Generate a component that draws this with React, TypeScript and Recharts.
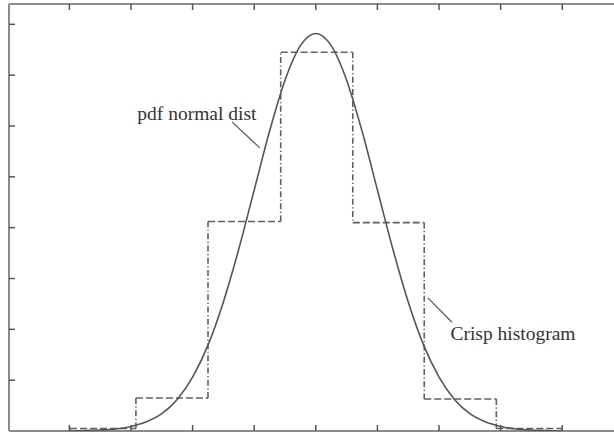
import React from 'react';
import { ComposedChart, Line, XAxis, YAxis, ReferenceLine, ReferenceDot } from 'recharts';

const curveX = [0, 0.25, 0.5, 0.75, 1, 1.25, 1.5, 1.75, 2, 2.25, 2.5, 2.75, 3, 3.25, 3.5, 3.75, 4, 4.25, 4.5, 4.75, 5, 5.25, 5.5, 5.75, 6, 6.25, 6.5, 6.75, 7, 7.25, 7.5, 7.75, 8];
const curveY = [0.0, 0.01, 0.02, 0.04, 0.09, 0.18, 0.34, 0.62, 1.06, 1.69, 2.54, 3.58, 4.74, 5.9, 6.9, 7.58, 7.82, 7.58, 6.9, 5.9, 4.74, 3.58, 2.54, 1.69, 1.06, 0.62, 0.34, 0.18, 0.09, 0.04, 0.02, 0.01, 0.0];

const binEdges = [0.01, 1.08, 2.25, 3.43, 4.6, 5.76, 6.93, 8.0];
const binHeights = [0.05, 0.65, 4.12, 7.45, 4.1, 0.63, 0.05];

const xTicks = [0, 1, 2, 3, 4, 5, 6, 7, 8];
const yTicks = [1, 2, 3, 4, 5, 6, 7, 8];
const xDomain = [-0.98, 8.84];
const yDomain = [0, 8.4];

const annotations = [
  { text: 'pdf normal dist', x: 2.07, y: 6.26, fromX: 2.64, fromY: 6.08, toX: 3.09, toY: 5.57 },
  { text: 'Crisp histogram', x: 7.2, y: 1.93, fromX: 6.21, fromY: 2.14, toX: 5.82, toY: 2.62 },
];

const curveData = curveX.map((x, i) => ({ x, y: curveY[i] }));

const FRAME = '#8c8c8c';
const INK = '#555555';
const HIST = '#606060';
const TICK = 6;

const XTickShape = (p: any) => {
  const top = Math.min(p.y1, p.y2);
  const bot = Math.max(p.y1, p.y2);
  return (
    <g>
      <line x1={p.x1} x2={p.x1} y1={bot} y2={bot - TICK} stroke={INK} strokeWidth={1.5} />
      <line x1={p.x1} x2={p.x1} y1={top} y2={top + TICK} stroke={INK} strokeWidth={1.5} />
    </g>
  );
};
const YTickShape = (p: any) => {
  const left = Math.min(p.x1, p.x2);
  return <line x1={left} x2={left + TICK} y1={p.y1} y2={p.y1} stroke={INK} strokeWidth={1.5} />;
};

export default function App() {
  const horiz = binHeights.map((h, i) => (
    <ReferenceLine
      key={'h' + i}
      segment={[{ x: binEdges[i], y: h }, { x: binEdges[i + 1], y: h }]}
      stroke={HIST}
      strokeWidth={1.6}
      strokeDasharray="7 3"
      ifOverflow="visible"
    />
  ));
  const vert = binEdges.map((e, i) => {
    const a = i === 0 ? 0 : binHeights[i - 1];
    const b = i === binHeights.length ? 0 : binHeights[i];
    return (
      <ReferenceLine
        key={'v' + i}
        segment={[{ x: e, y: a }, { x: e, y: b }]}
        stroke={HIST}
        strokeWidth={1.6}
        strokeDasharray="6 2.5 1.2 2.5"
        ifOverflow="visible"
      />
    );
  });
  return (
    <div style={{ position: 'absolute', left: 0, top: 0, background: '#fff' }}>
      <ComposedChart
        width={614}
        height={433}
        data={curveData}
        margin={{ top: 4, right: 0, bottom: 2, left: 9 }}
      >
        <XAxis dataKey="x" type="number" domain={xDomain} hide allowDataOverflow />
        <YAxis type="number" domain={yDomain} hide allowDataOverflow />
        <ReferenceLine x={xDomain[0]} stroke={FRAME} strokeWidth={2} ifOverflow="visible" />
        <ReferenceLine y={yDomain[0]} stroke={FRAME} strokeWidth={2} ifOverflow="visible" />
        <ReferenceLine y={yDomain[1]} stroke={FRAME} strokeWidth={2} ifOverflow="visible" />
        {xTicks.map((t) => (
          <ReferenceLine key={'xt' + t} x={t} stroke={INK} ifOverflow="visible" shape={XTickShape} />
        ))}
        {yTicks.map((t) => (
          <ReferenceLine key={'yt' + t} y={t} stroke={INK} ifOverflow="visible" shape={YTickShape} />
        ))}
        {horiz}
        {vert}
        <Line
          type="monotone"
          dataKey="y"
          stroke={INK}
          strokeWidth={1.6}
          dot={false}
          isAnimationActive={false}
        />
        {annotations.map((a, i) => (
          <ReferenceLine
            key={'l' + i}
            segment={[{ x: a.fromX, y: a.fromY }, { x: a.toX, y: a.toY }]}
            stroke={INK}
            strokeWidth={1.2}
            ifOverflow="visible"
          />
        ))}
        {annotations.map((a, i) => (
          <ReferenceDot
            key={'t' + i}
            x={a.x}
            y={a.y}
            r={0}
            fill="none"
            stroke="none"
            ifOverflow="visible"
            label={{
              value: a.text,
              position: 'center',
              fill: '#333',
              fontSize: 19.5,
              fontFamily: '"Liberation Serif", "Times New Roman", serif',
            }}
          />
        ))}
      </ComposedChart>
    </div>
  );
}
